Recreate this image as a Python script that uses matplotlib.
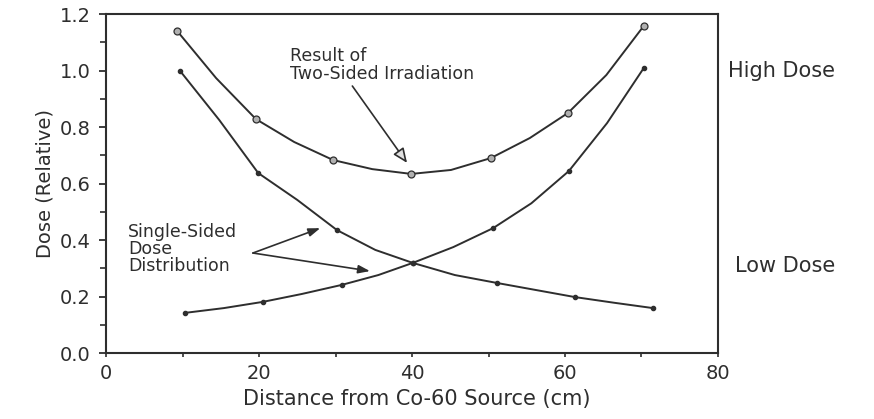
import matplotlib.pyplot as plt
from matplotlib.ticker import MultipleLocator

# Dose vs distance from the Co-60 source
# (every second point carries a marker)
x_two = [9.3, 14.4, 19.6, 24.6, 29.7, 34.8, 39.9, 45.1, 50.3, 55.4, 60.4, 65.4, 70.3]
dose_two = [1.140, 0.973, 0.828, 0.747, 0.683, 0.651, 0.634, 0.648, 0.690, 0.761, 0.850, 0.984, 1.158]

x_down = [9.7, 14.8, 19.9, 25.0, 30.2, 35.2, 40.1, 45.6, 51.1, 56.2, 61.3, 66.4, 71.5]
dose_down = [0.998, 0.825, 0.637, 0.542, 0.435, 0.365, 0.319, 0.276, 0.248, 0.223, 0.198, 0.178, 0.159]

x_up = [10.3, 15.4, 20.5, 25.6, 30.8, 35.6, 40.1, 45.4, 50.6, 55.6, 60.5, 65.5, 70.3]
dose_up = [0.142, 0.159, 0.181, 0.209, 0.241, 0.276, 0.319, 0.375, 0.442, 0.530, 0.644, 0.814, 1.009]

ink = '#2e2e2e'

fig = plt.figure(figsize=(8.74, 4.19), dpi=100)
ax = fig.add_axes([0.1213, 0.1575, 0.7002, 0.809])

ax.plot(x_two, dose_two, color=ink, lw=1.4, marker='o', markevery=2, ms=5,
        mfc='#b0b0b0', mec=ink, mew=0.9)
ax.plot(x_down, dose_down, color=ink, lw=1.4, marker='o', markevery=2, ms=3,
        mfc=ink, mec=ink)
ax.plot(x_up, dose_up, color=ink, lw=1.4, marker='o', markevery=2, ms=3,
        mfc=ink, mec=ink)

ax.set_xlim(0, 80)
ax.set_ylim(0, 1.2)
ax.set_xticks([0, 20, 40, 60, 80])
ax.set_yticks([0.0, 0.2, 0.4, 0.6, 0.8, 1.0, 1.2])
ax.yaxis.set_minor_locator(MultipleLocator(0.1))
ax.xaxis.set_minor_locator(MultipleLocator(10))
ax.yaxis.set_major_formatter(plt.FormatStrFormatter('%.1f'))
ax.tick_params(axis='y', which='major', direction='out', length=5, width=1.3,
               labelsize=14, colors=ink, pad=6)
ax.tick_params(axis='y', which='minor', direction='out', length=4, width=1.2, colors=ink)
ax.tick_params(axis='x', which='both', direction='out', length=3, width=1.2,
               labelsize=14, colors=ink, pad=5)
for s in ax.spines.values():
    s.set_color(ink)
    s.set_linewidth(1.5)

ax.set_xlabel('Distance from Co-60 Source (cm)', fontsize=15, color=ink, labelpad=1)
ax.xaxis.set_label_coords(0.507, -0.105)
ax.set_ylabel('Dose (Relative)', fontsize=14, color=ink, labelpad=4)

ax.annotate('Result of\nTwo-Sided Irradiation', xy=(39.35, 0.673), xytext=(24.0, 0.955),
            fontsize=12.5, color=ink, linespacing=1.0, ha='left', va='bottom',
            arrowprops=dict(arrowstyle='-|>,head_length=0.7,head_width=0.3', color=ink,
                            lw=1.2, fc='#e0e0e0', shrinkA=0, shrinkB=0,
                            relpos=(0.33, 0.0)))

ax.text(2.9, 0.46, 'Single-Sided\nDose\nDistribution', fontsize=12.5, color=ink,
        linespacing=0.92, ha='left', va='top')
for head in [(28.0, 0.442), (34.5, 0.29)]:
    ax.annotate('', xy=head, xytext=(19.2, 0.354),
                arrowprops=dict(arrowstyle='-|>,head_length=0.7,head_width=0.25', color=ink,
                                lw=1.2, shrinkA=0, shrinkB=0))

fig.text(0.833, 0.83, 'High Dose', fontsize=15, color=ink, ha='left', va='center')
fig.text(0.841, 0.365, 'Low Dose', fontsize=15, color=ink, ha='left', va='center')

fig.savefig('out.png', dpi=100)
